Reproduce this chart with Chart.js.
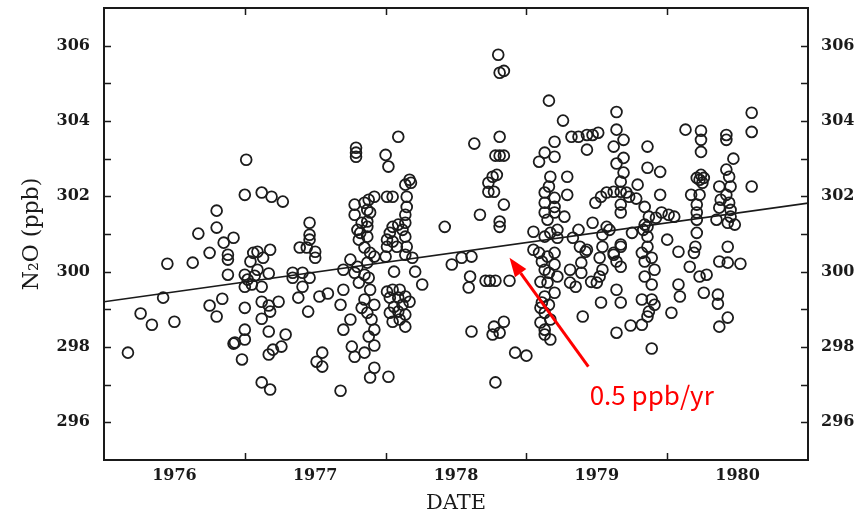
<!DOCTYPE html>
<html>
<head>
<meta charset="utf-8">
<script src="https://cdn.jsdelivr.net/npm/chart.js@4.4.1/dist/chart.umd.min.js"></script>
<style>
  html, body { margin: 0; padding: 0; background: #fff; }
  canvas { display: block; }
</style>
</head>
<body>
<canvas id="c" width="865" height="516"></canvas>
<script>
// N2O 観測値 [年(小数), ppb] — 図から読み取った推定値
const obs1976 = [
  [1976.17,297.85],[1976.26,298.89],[1976.34,298.59],[1976.42,299.31],[1976.45,300.21],
  [1976.50,298.67],[1976.63,300.24],[1976.67,301.01],[1976.75,300.50],[1976.75,299.10],
  [1976.80,301.62],[1976.80,301.17],[1976.80,298.81],[1976.84,299.28],[1976.85,300.77],
  [1976.92,300.90],[1976.88,300.45],[1976.88,300.32],[1976.88,299.92],[1976.92,298.09],
  [1976.98,297.67],[1976.93,298.12]
];
const obs1977 = [
  [1977.01,302.97],[1977.00,302.04],[1977.00,298.46],[1977.00,298.20],[1977.00,299.04],[1977.04,300.27],
  [1977.00,299.92],[1977.02,299.79],[1977.05,299.66],[1977.00,299.60],[1977.07,299.89],[1977.12,299.60],
  [1977.17,299.95],[1977.09,300.05],[1977.06,300.50],[1977.09,300.53],[1977.13,300.37],[1977.18,300.58],
  [1977.12,302.10],[1977.19,301.99],[1977.27,301.86],[1977.12,299.20],[1977.17,299.10],[1977.24,299.20],
  [1977.18,298.94],[1977.12,298.75],[1977.17,298.41],[1977.29,298.33],[1977.17,297.80],[1977.20,297.93],
  [1977.26,298.01],[1977.12,297.06],[1977.18,296.87],[1977.34,299.97],[1977.34,299.84],[1977.41,299.97],
  [1977.46,299.84],[1977.39,300.64],[1977.44,300.64],[1977.46,301.30],[1977.46,300.98],[1977.46,300.85],
  [1977.50,300.53],[1977.50,300.37],[1977.41,299.60],[1977.38,299.31],[1977.53,299.34],[1977.59,299.42],
  [1977.45,298.94],[1977.55,297.85],[1977.51,297.61],[1977.55,297.48],[1977.68,296.84],
  [1977.79,303.29],[1977.79,303.16],[1977.79,303.05],[1977.78,301.78],[1977.85,301.83],[1977.88,301.91],
  [1977.92,301.99],[1977.87,301.64],[1977.78,301.51],[1977.89,301.57],[1977.80,301.11],[1977.82,301.03],
  [1977.87,301.33],[1977.87,300.93],[1977.85,300.64],[1977.83,301.30],[1977.87,301.19],[1977.81,300.85],
  [1977.75,300.32],[1977.70,300.05],[1977.78,299.97],[1977.89,300.50],[1977.87,300.24],[1977.92,300.40],
  [1977.80,300.13],[1977.85,299.92],[1977.81,299.71],[1977.88,299.84],[1977.70,299.52],[1977.68,299.12],
  [1977.75,298.73],[1977.70,298.46],[1977.76,298.01],[1977.78,297.74],[1977.89,299.52],[1977.85,299.26],
  [1977.83,299.04],[1977.87,298.91],[1977.92,299.12],[1977.90,298.73],[1977.92,298.46],[1977.88,298.28],
  [1977.92,298.04],[1977.85,297.85],[1977.92,297.45],[1977.89,297.19]
];
const obs1978 = [
  [1978.09,303.58],[1978.00,303.10],[1978.02,302.79],[1978.01,301.99],[1978.05,301.99],[1978.14,302.31],
  [1978.17,302.44],[1978.18,302.36],[1978.15,301.99],[1978.15,301.72],[1978.14,301.51],[1978.14,301.30],
  [1978.12,301.11],[1978.14,300.93],[1978.05,301.19],[1978.03,301.03],[1978.01,300.85],[1978.05,300.80],
  [1978.09,301.25],[1978.08,300.66],[1978.15,300.66],[1978.01,300.66],[1978.42,301.19],[1978.81,301.19],
  [1978.00,300.40],[1978.06,300.00],[1978.14,300.45],[1978.19,300.37],[1978.21,300.00],[1978.26,299.66],
  [1978.01,299.47],[1978.05,299.52],[1978.10,299.52],[1978.03,299.31],[1978.09,299.31],[1978.14,299.34],
  [1978.17,299.20],[1978.12,299.12],[1978.06,299.07],[1978.03,298.91],[1978.09,298.94],[1978.14,298.86],
  [1978.10,298.73],[1978.05,298.67],[1978.14,298.54],[1978.02,297.21],
  [1978.47,300.19],[1978.54,300.37],[1978.61,300.40],[1978.60,299.87],[1978.59,299.58],[1978.71,299.76],
  [1978.74,299.76],[1978.78,299.76],[1978.88,299.76],[1978.61,298.41],[1978.77,298.54],[1978.76,298.33],
  [1978.81,298.38],[1978.84,298.67],[1978.92,297.85],[1978.78,297.06],
  [1978.63,303.40],[1978.80,305.76],[1978.81,305.28],[1978.84,305.33],[1978.81,303.58],[1978.78,303.08],
  [1978.81,303.08],[1978.84,303.08],[1978.79,302.57],[1978.76,302.52],[1978.73,302.36],[1978.73,302.12],
  [1978.77,302.12],[1978.84,301.78],[1978.67,301.51],[1978.81,301.33]
];
const obs1979 = [
  [1979.00,297.77],
  [1979.16,304.54],[1979.26,304.01],[1979.20,303.45],[1979.13,303.16],[1979.20,303.05],[1979.09,302.92],
  [1979.32,303.58],[1979.17,302.52],[1979.29,302.52],[1979.16,302.26],[1979.13,302.10],[1979.29,302.04],
  [1979.20,301.96],[1979.13,301.83],[1979.20,301.72],[1979.13,301.57],[1979.20,301.57],[1979.27,301.46],
  [1979.15,301.38],[1979.22,301.11],[1979.17,301.03],[1979.05,301.06],[1979.33,300.90],[1979.05,300.58],
  [1979.13,300.93],[1979.22,300.90],[1979.09,300.50],[1979.11,300.27],[1979.15,300.40],[1979.20,300.50],
  [1979.13,300.05],[1979.16,299.97],[1979.20,300.19],[1979.10,299.73],[1979.15,299.71],[1979.22,299.87],
  [1979.20,299.44],[1979.13,299.34],[1979.10,299.04],[1979.13,298.91],[1979.17,298.73],[1979.10,298.65],
  [1979.13,298.46],[1979.13,298.33],[1979.17,298.20],[1979.11,299.18],[1979.16,299.12],[1979.31,299.71],
  [1979.31,300.05],
  [1979.37,303.58],[1979.43,303.63],[1979.47,303.63],[1979.51,303.69],[1979.43,303.24],[1979.47,301.30],
  [1979.37,301.11],[1979.42,300.53],[1979.35,299.60],[1979.39,300.24],[1979.39,299.97],[1979.40,298.81],
  [1979.38,300.66],[1979.43,300.58],[1979.54,300.66],[1979.57,301.19],[1979.54,300.98],[1979.52,300.37],
  [1979.46,299.73],[1979.50,299.71],[1979.52,299.87],[1979.53,299.18],[1979.49,301.83],[1979.53,301.99],
  [1979.57,302.10],[1979.59,301.11],
  [1979.64,304.24],[1979.64,303.77],[1979.69,303.50],[1979.62,303.32],[1979.69,303.02],[1979.64,302.87],
  [1979.69,302.63],[1979.67,302.39],[1979.62,302.12],[1979.67,302.12],[1979.71,302.10],[1979.73,301.99],
  [1979.79,302.31],[1979.78,301.94],[1979.84,301.72],[1979.67,301.78],[1979.67,301.57],[1979.86,303.32],
  [1979.86,302.76],[1979.95,302.65],[1979.95,302.04],[1979.96,301.57],[1979.87,301.46],[1979.92,301.43],
  [1979.83,301.11],[1979.86,301.19],[1979.86,300.93],[1979.86,300.66],[1979.75,301.03],[1979.67,300.66],
  [1979.62,300.50],[1979.84,301.25],[1979.82,300.50],[1979.84,300.27],[1979.89,300.37],[1979.91,300.05],
  [1979.84,299.87],[1979.89,299.66],[1979.82,299.26],[1979.89,299.26],[1979.91,299.12],[1979.87,298.94],
  [1979.86,298.81],[1979.82,298.59],[1979.74,298.57],[1979.89,297.96],[1979.62,300.45],[1979.64,300.27],
  [1979.67,300.13],[1979.54,300.05],[1979.67,300.72],[1979.64,299.52],[1979.67,299.18],[1979.64,298.38]
];
const obs1980 = [
  [1980.01,301.51],[1980.05,301.46],[1980.00,300.85],[1980.08,300.53],[1980.03,298.91],[1980.08,299.66],
  [1980.09,299.34],
  [1980.13,303.77],[1980.24,303.74],[1980.24,303.50],[1980.24,303.18],[1980.24,302.57],[1980.21,302.49],
  [1980.26,302.49],[1980.25,302.36],[1980.23,302.44],[1980.17,302.04],[1980.23,302.04],[1980.21,301.78],
  [1980.21,301.57],[1980.21,301.38],[1980.21,301.03],[1980.20,300.66],[1980.19,300.50],[1980.16,300.13],
  [1980.23,299.87],[1980.28,299.92],[1980.26,299.44],
  [1980.42,303.63],[1980.42,303.50],[1980.47,303.00],[1980.42,302.71],[1980.44,302.52],[1980.37,302.26],
  [1980.45,302.26],[1980.42,302.04],[1980.38,301.91],[1980.44,301.83],[1980.37,301.70],[1980.45,301.64],
  [1980.45,301.46],[1980.48,301.25],[1980.43,301.30],[1980.35,301.38],[1980.43,300.66],[1980.37,300.27],
  [1980.43,300.24],[1980.52,300.21],[1980.36,299.39],[1980.36,299.15],[1980.43,298.78],[1980.37,298.54],
  [1980.60,304.22],[1980.60,303.71],[1980.60,302.26]
];

// 回帰直線(両端)
const trendYears = [1976, 1981];
const trendValues = [299.2, 301.82];

// 軸
const yearLabels = [1976, 1977, 1978, 1979, 1980];
const yearBounds = [1977, 1978, 1979, 1980];
const yMin = 295, yMax = 307;

// 注記(矢印と文字)
const arrowFrom = [1979.44, 297.48];
const arrowTo = [1978.88, 300.37];
const noteAt = [1979.89, 296.47];
const noteText = '0.5 ppb/yr';

const points = [...obs1976, ...obs1977, ...obs1978, ...obs1979, ...obs1980]
  .map(([x, y]) => ({ x, y }));
const trend = trendYears.map((x, i) => ({ x, y: trendValues[i] }));

const tickFont = { family: '"DejaVu Serif", serif', size: 16, weight: 'bold' };
const ink = '#1a1a1a';

function zeroPad(s) {
  s.paddingLeft = 0; s.paddingRight = 0; s.paddingTop = 0; s.paddingBottom = 0;
}
function yLabel(v) {
  return (v % 2 === 0) ? String(v) : '';
}

/// 枠の内側へ向く目盛り線
const innerTicks = {
  id: 'innerTicks',
  afterDraw(chart) {
    const { ctx, chartArea: a, scales: { x, y } } = chart;
    ctx.save();
    ctx.strokeStyle = ink;
    ctx.lineWidth = 1.5;
    ctx.beginPath();
    for (let v = yMin + 1; v < yMax; v++) {
      const py = Math.round(y.getPixelForValue(v)) + 0.5;
      ctx.moveTo(a.left, py); ctx.lineTo(a.left + 7, py);
      ctx.moveTo(a.right, py); ctx.lineTo(a.right - 7, py);
    }
    for (const yr of yearBounds) {
      const px = Math.round(x.getPixelForValue(yr)) + 0.5;
      ctx.moveTo(px, a.bottom); ctx.lineTo(px, a.bottom - 7);
      ctx.moveTo(px, a.top); ctx.lineTo(px, a.top + 7);
    }
    ctx.stroke();
    ctx.restore();
  }
};

/// 赤い矢印と傾きの注記
const note = {
  id: 'note',
  afterDraw(chart) {
    const { ctx, scales: { x, y } } = chart;
    const x0 = x.getPixelForValue(arrowFrom[0]), y0 = y.getPixelForValue(arrowFrom[1]);
    const x1 = x.getPixelForValue(arrowTo[0]), y1 = y.getPixelForValue(arrowTo[1]);
    const ang = Math.atan2(y1 - y0, x1 - x0);
    const head = 19, half = 7;
    const bx = x1 - head * Math.cos(ang), by = y1 - head * Math.sin(ang);
    ctx.save();
    ctx.strokeStyle = '#ff0000';
    ctx.fillStyle = '#ff0000';
    ctx.lineWidth = 3;
    ctx.beginPath();
    ctx.moveTo(x0, y0);
    ctx.lineTo(bx, by);
    ctx.stroke();
    ctx.beginPath();
    ctx.moveTo(x1, y1);
    ctx.lineTo(bx + half * Math.sin(ang), by - half * Math.cos(ang));
    ctx.lineTo(bx - half * Math.sin(ang), by + half * Math.cos(ang));
    ctx.closePath();
    ctx.fill();
    ctx.font = '26px "Noto Sans CJK JP", "Noto Sans", sans-serif';
    ctx.textAlign = 'center';
    ctx.textBaseline = 'alphabetic';
    ctx.fillText(noteText, x.getPixelForValue(noteAt[0]), y.getPixelForValue(noteAt[1]));
    ctx.restore();
  }
};

new Chart(document.getElementById('c'), {
  data: {
    datasets: [
      {
        type: 'line',
        data: trend,
        borderColor: ink,
        borderWidth: 1.6,
        pointRadius: 0,
        fill: false,
        order: 0
      },
      {
        type: 'scatter',
        data: points,
        pointStyle: 'circle',
        pointRadius: 5.4,
        borderWidth: 1.8,
        borderColor: '#1c1c1c',
        backgroundColor: 'rgba(0,0,0,0)',
        order: 1
      }
    ]
  },
  options: {
    responsive: false,
    devicePixelRatio: 1,
    animation: false,
    layout: { padding: 0 },
    plugins: { legend: { display: false }, tooltip: { enabled: false } },
    scales: {
      x: {
        type: 'linear', position: 'bottom', min: 1976, max: 1981,
        afterBuildTicks: (s) => { s.ticks = yearLabels.map((v) => ({ value: v + 0.5 })); },
        ticks: {
          callback: (v) => String(Math.floor(v)),
          autoSkip: false, maxRotation: 0, padding: 6,
          font: tickFont, color: ink
        },
        grid: { display: false, drawTicks: false },
        border: { display: true, width: 2, color: ink },
        title: {
          display: true, text: 'DATE', color: ink,
          font: { family: '"DejaVu Serif", serif', size: 21 },
          padding: { top: 0, bottom: 0 }
        },
        afterFit: (s) => { s.height = 56; zeroPad(s); }
      },
      xTop: {
        type: 'linear', position: 'top', min: 1976, max: 1981,
        ticks: { display: false },
        grid: { display: false, drawTicks: false },
        border: { display: true, width: 2, color: ink },
        afterFit: (s) => { s.height = 8; zeroPad(s); }
      },
      y: {
        type: 'linear', position: 'left', min: yMin, max: yMax,
        ticks: { stepSize: 1, callback: yLabel, padding: 14, font: tickFont, color: ink },
        grid: { display: false, drawTicks: false },
        border: { display: true, width: 2, color: ink },
        title: {
          display: true, text: 'N\u2082O (ppb)', color: ink,
          font: { family: '"DejaVu Serif", serif', size: 22 },
          padding: { top: 19, bottom: 0 }
        },
        afterFit: (s) => { s.width = 104; zeroPad(s); }
      },
      yRight: {
        type: 'linear', position: 'right', min: yMin, max: yMax,
        ticks: { stepSize: 1, callback: yLabel, padding: 13, font: tickFont, color: ink },
        grid: { display: false, drawTicks: false },
        border: { display: true, width: 2, color: ink },
        afterFit: (s) => { s.width = 57; zeroPad(s); }
      }
    }
  },
  plugins: [innerTicks, note]
});
</script>
</body>
</html>
